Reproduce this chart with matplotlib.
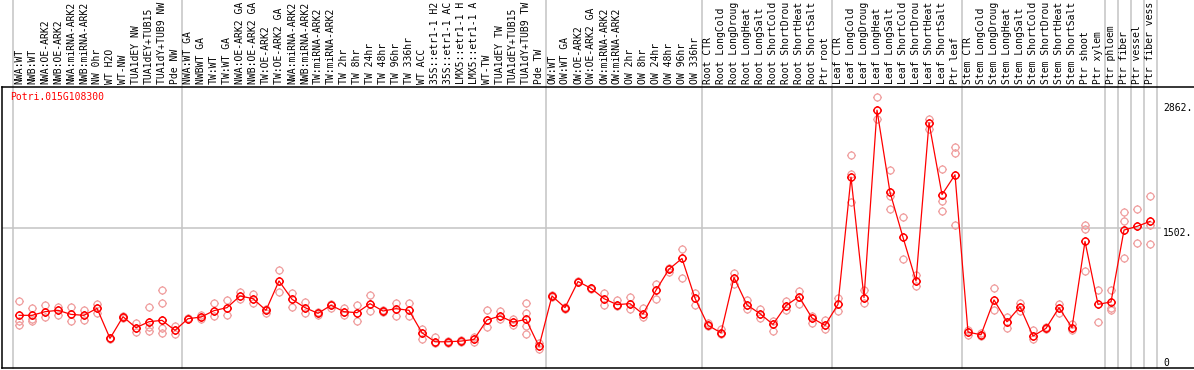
import numpy as np
import matplotlib
matplotlib.use("Agg")
import matplotlib.pyplot as plt
from matplotlib.path import Path
from matplotlib.markers import MarkerStyle

# ---------------- data ----------------
gene_name = "Potri.015G108300"

labels = [
    "NWA:WT", "NWB:WT", "NWA:OE-ARK2", "NWB:OE-ARK2", "NWA:miRNA-ARK2", "NWB:miRNA-ARK2",
    "NW 0hr", "WT H2O", "WT-NW", "TUA1dEY NW", "TUA1dEY+TUB15", "TUA1dY+TUB9 NW", "Pde NW",
    "NWA:WT GA", "NWBWT GA", "TW:WT", "TW:WT GA", "NWA:OE-ARK2 GA", "NWB:OE-ARK2 GA",
    "TW:OE-ARK2", "TW:OE-ARK2 GA", "NWA:miRNA-ARK2", "NWB:miRNA-ARK2", "TW:miRNA-ARK2",
    "TW:miRNA-ARK2", "TW 2hr", "TW 8hr", "TW 24hr", "TW 48hr", "TW 96hr", "TW 336hr",
    "WT ACC", "35S::etr1-1 H2", "35S::etr1-1 AC", "LMX5::etr1-1 H", "LMX5::etr1-1 A",
    "WT-TW", "TUA1dEY TW", "TUA1dEY+TUB15", "TUA1dY+TUB9 TW", "Pde TW",
    "OW:WT", "OW:WT GA", "OW:OE-ARK2", "OW:OE-ARK2 GA", "OW:miRNA-ARK2", "OW:miRNA-ARK2",
    "OW 2hr", "OW 8hr", "OW 24hr", "OW 48hr", "OW 96hr", "OW 336hr",
    "Root CTR", "Root LongCold", "Root LongDroug", "Root LongHeat", "Root LongSalt",
    "Root ShortCold", "Root ShortDrou", "Root ShortHeat", "Root ShortSalt", "Ptr root",
    "Leaf CTR", "Leaf LongCold", "Leaf LongDroug", "Leaf LongHeat", "Leaf LongSalt",
    "Leaf ShortCold", "Leaf ShortDrou", "Leaf ShortHeat", "Leaf ShortSalt", "Ptr leaf",
    "Stem CTR", "Stem LongCold", "Stem LongDroug", "Stem LongHeat", "Stem LongSalt",
    "Stem ShortCold", "Stem ShortDrou", "Stem ShortHeat", "Stem ShortSalt", "Ptr shoot",
    "Ptr xylem", "Ptr phloem", "Ptr fiber", "Ptr vessel", "Ptr fiber vess",
]

group_sizes = [13, 28, 12, 10, 10, 11, 1, 1, 1, 1]

means = [
    488, 488, 530, 546, 499, 488, 569, 221, 472, 345, 414, 430, 314,
    449, 468, 542, 577, 712, 681, 546, 886, 674, 577, 511, 604, 530, 519, 623, 538,
    565, 546, 286, 182, 182, 190, 209, 434, 480, 410, 441, 128,
    712, 577, 879, 801, 681, 612, 623, 503, 778, 1022, 1146, 685,
    372, 286, 925, 608, 507, 383, 600, 705, 457, 372,
    615, 2087, 693, 2862, 1912, 1390, 886, 2717, 1885, 2114,
    294, 263, 666, 414, 588, 248, 337, 577, 345, 1343, 615,
    643, 1475, 1517, 1575,
]

replicates = [
    [654, 422, 372], [577, 441, 422], [604, 472], [585, 492], [588, 422], [546, 434],
    [623, 519], [228, 209], [480, 461], [403, 294], [588, 356, 302], [782, 635, 337, 286],
    [364, 275],
    [457, 441], [492, 441], [635, 480], [666, 492], [759, 674], [732, 635], [565, 519],
    [1014, 763], [743, 588], [646, 519], [526, 495], [619, 577], [569, 492], [604, 422],
    [720, 538], [550, 526], [635, 480], [635, 480], [333, 217], [236, 163], [194, 170],
    [201, 178], [240, 178], [550, 356], [538, 441], [441, 372], [635, 511, 364, 267],
    [163, 93],
    [720, 700], [590, 565], [890, 870], [810, 790], [743, 608], [662, 596], [701, 557],
    [577, 465], [848, 674], [991, 1040], [1254, 925], [751, 604],
    [403, 360], [325, 270], [983, 855], [666, 557], [557, 461], [422, 306], [654, 546],
    [770, 619], [403, 480], [434, 325],
    [685, 538], [2346, 2125, 1796], [778, 635], [3016, 2764], [2172, 1866, 1719],
    [1622, 1138], [952, 828], [2756, 2648], [2183, 1808, 1692], [2435, 2365, 1533],
    [317, 255], [280, 250], [809, 550], [468, 345], [635, 538], [314, 209], [350, 325],
    [623, 519], [391, 317], [1533, 1486, 1003], [778, 414],
    [778, 569, 550], [1688, 1583, 1157], [1719, 1320], [1866, 1533, 1308],
]

scale_labels = ["2862.", "1502.", "0"]
scale_values = [2862, 1502, 0]
grid_value = 1502

# ---------------- figure ----------------
W, H = 1194, 370
fig = plt.figure(figsize=(W / 100, H / 100), dpi=100)
top_px, bot_px, left_px = 87, 368, 2
ax = fig.add_axes([left_px / W, (H - bot_px) / H, (W - left_px) / W, (bot_px - top_px) / H])

px0, dpx = 19, 13
ax.set_xlim((left_px - px0) / dpx, (W - px0) / dpx)
zero_px = 357.5
ppu = (zero_px - 227.7) / 1502.0
ax.set_ylim(-(bot_px - zero_px) / ppu, (zero_px - top_px) / ppu)

ax.set_xticks([])
ax.set_yticks([])
for s in ["left", "bottom", "top"]:
    ax.spines[s].set_color("black")
    ax.spines[s].set_linewidth(1.1)
ax.spines["right"].set_visible(False)

gray = "#c4c4c4"
# group separators (extend into header)
bounds = -0.5 + np.cumsum([0] + group_sizes)
ext = bot_px / (bot_px - top_px)
for b in bounds:
    ax.axvline(b, ymin=0, ymax=ext, color=gray, lw=1.1, clip_on=False, zorder=0)
ax.axhline(grid_value, xmin=0, xmax=(1160 - left_px) / (W - left_px), color=gray, lw=1.1, zorder=0)

# custom marker: circle with small ticks
circ = Path.unit_circle()
tv, tc = [], []
for ang in [0, np.pi / 2, np.pi, 3 * np.pi / 2]:
    tv += [(np.cos(ang) * 1.0, np.sin(ang) * 1.0), (np.cos(ang) * 1.28, np.sin(ang) * 1.28)]
    tc += [Path.MOVETO, Path.LINETO]
mpath = Path.make_compound_path(circ, Path(tv, tc))
mk = MarkerStyle(mpath)

x = np.arange(len(labels))
rx = np.concatenate([[i] * len(r) for i, r in enumerate(replicates)])
ry = np.concatenate(replicates)
ax.plot(rx, ry, linestyle="none", marker=mk, markersize=6.4, mfc="none",
        mec="#f0a0a0", mew=0.9, zorder=2)
ax.plot(x, means, color="#ff0000", lw=0.9, zorder=3)
ax.plot(x, means, linestyle="none", marker=mk, markersize=6.4, mfc="none",
        mec="#ff0000", mew=1.05, zorder=4)

# header labels
mono = "DejaVu Sans Mono"
trans = ax.get_xaxis_transform()
ylab = (bot_px - 84) / (bot_px - top_px)
for i, lab in enumerate(labels):
    ax.text(i, ylab, lab, rotation=90, ha="center", va="bottom", fontsize=7,
            family=mono, color="black", transform=trans, clip_on=False)

# gene name
fig.text(10 / W, 1 - 92 / H, gene_name, color="#ff0000", fontsize=7, family=mono,
         ha="left", va="top")

# right scale labels
label_tops = [103, 228.5, 357.5]
for lab, t in zip(scale_labels, label_tops):
    fig.text(1163 / W, 1 - t / H, lab, fontsize=7, family=mono, ha="left", va="top",
             color="black")

fig.savefig("out.png", dpi=100)
